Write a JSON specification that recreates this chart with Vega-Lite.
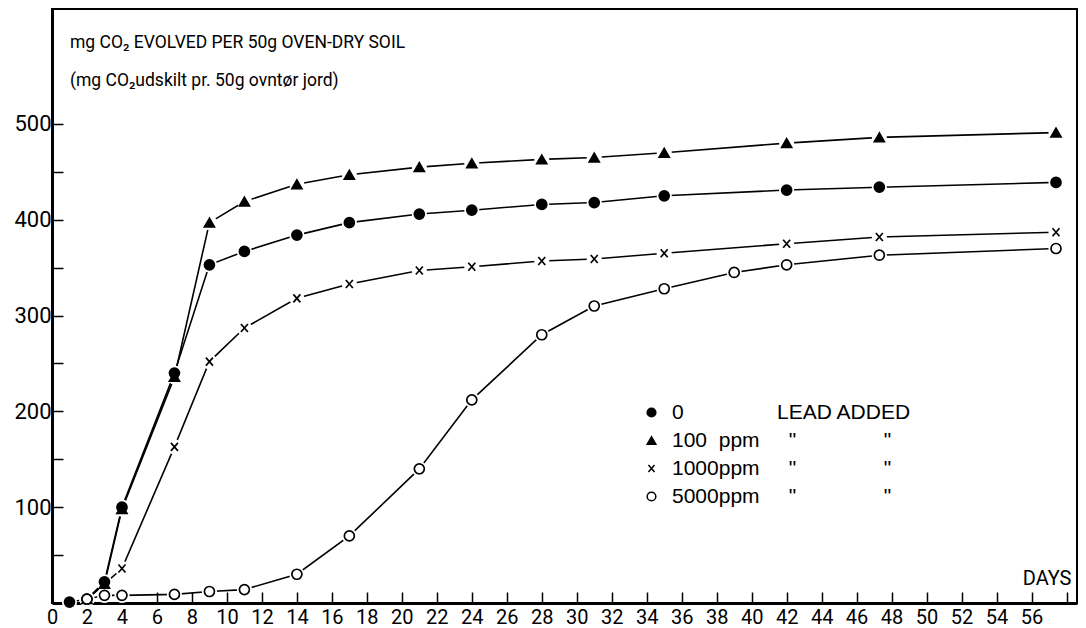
{
  "$schema": "https://vega.github.io/schema/vega-lite/v6.json",
  "width": 1025,
  "height": 594,
  "autosize": {"type": "none"},
  "padding": {"left": 52, "top": 9, "right": 9, "bottom": 25},
  "background": "white",
  "config": {
    "view": {"stroke": "black", "strokeWidth": 2},
    "font": "Roboto",
    "axis": {"grid": false, "labelColor": "black", "tickColor": "black", "domainColor": "black", "labelFont": "Roboto", "labelFontSize": 20}
  },
  "title": {
    "text": "mg CO₂ EVOLVED PER 50g OVEN-DRY SOIL",
    "subtitle": "(mg CO₂udskilt pr. 50g ovntør jord)",
    "anchor": "start",
    "frame": "group",
    "orient": "top",
    "offset": -80,
    "dx": 18,
    "font": "Roboto",
    "fontSize": 17.5,
    "fontWeight": "normal",
    "color": "black",
    "subtitleFont": "Roboto",
    "subtitleFontSize": 17.5,
    "subtitleColor": "black",
    "subtitlePadding": 20
  },
  "data": {
    "values": [
      {"day": 1, "v": 1, "s": "0"},
      {"day": 2, "v": 4, "s": "0"},
      {"day": 3, "v": 22, "s": "0"},
      {"day": 4, "v": 100, "s": "0"},
      {"day": 7, "v": 240, "s": "0"},
      {"day": 9, "v": 353, "s": "0"},
      {"day": 11, "v": 367, "s": "0"},
      {"day": 14, "v": 384, "s": "0"},
      {"day": 17, "v": 397, "s": "0"},
      {"day": 21, "v": 406, "s": "0"},
      {"day": 24, "v": 410, "s": "0"},
      {"day": 28, "v": 416, "s": "0"},
      {"day": 31, "v": 418, "s": "0"},
      {"day": 35, "v": 425, "s": "0"},
      {"day": 42, "v": 431, "s": "0"},
      {"day": 47.3, "v": 434, "s": "0"},
      {"day": 57.4, "v": 439, "s": "0"},
      {"day": 2, "v": 4, "s": "100 ppm"},
      {"day": 3, "v": 20, "s": "100 ppm"},
      {"day": 4, "v": 98, "s": "100 ppm"},
      {"day": 7, "v": 236, "s": "100 ppm"},
      {"day": 9, "v": 397, "s": "100 ppm"},
      {"day": 11, "v": 419, "s": "100 ppm"},
      {"day": 14, "v": 437, "s": "100 ppm"},
      {"day": 17, "v": 447, "s": "100 ppm"},
      {"day": 21, "v": 455, "s": "100 ppm"},
      {"day": 24, "v": 459, "s": "100 ppm"},
      {"day": 28, "v": 463, "s": "100 ppm"},
      {"day": 31, "v": 465, "s": "100 ppm"},
      {"day": 35, "v": 470, "s": "100 ppm"},
      {"day": 42, "v": 480, "s": "100 ppm"},
      {"day": 47.3, "v": 486, "s": "100 ppm"},
      {"day": 57.4, "v": 491, "s": "100 ppm"},
      {"day": 2, "v": 4, "s": "1000 ppm"},
      {"day": 3, "v": 20, "s": "1000 ppm"},
      {"day": 4, "v": 36, "s": "1000 ppm"},
      {"day": 7, "v": 163, "s": "1000 ppm"},
      {"day": 9, "v": 252, "s": "1000 ppm"},
      {"day": 11, "v": 287, "s": "1000 ppm"},
      {"day": 14, "v": 318, "s": "1000 ppm"},
      {"day": 17, "v": 333, "s": "1000 ppm"},
      {"day": 21, "v": 347, "s": "1000 ppm"},
      {"day": 24, "v": 351, "s": "1000 ppm"},
      {"day": 28, "v": 357, "s": "1000 ppm"},
      {"day": 31, "v": 359, "s": "1000 ppm"},
      {"day": 35, "v": 365, "s": "1000 ppm"},
      {"day": 42, "v": 375, "s": "1000 ppm"},
      {"day": 47.3, "v": 382, "s": "1000 ppm"},
      {"day": 57.4, "v": 387, "s": "1000 ppm"},
      {"day": 2, "v": 4, "s": "5000 ppm"},
      {"day": 3, "v": 8, "s": "5000 ppm"},
      {"day": 4, "v": 8, "s": "5000 ppm"},
      {"day": 7, "v": 9, "s": "5000 ppm"},
      {"day": 9, "v": 12, "s": "5000 ppm"},
      {"day": 11, "v": 14, "s": "5000 ppm"},
      {"day": 14, "v": 30, "s": "5000 ppm"},
      {"day": 17, "v": 70, "s": "5000 ppm"},
      {"day": 21, "v": 140, "s": "5000 ppm"},
      {"day": 24, "v": 212, "s": "5000 ppm"},
      {"day": 28, "v": 280, "s": "5000 ppm"},
      {"day": 31, "v": 310, "s": "5000 ppm"},
      {"day": 35, "v": 328, "s": "5000 ppm"},
      {"day": 39, "v": 345, "s": "5000 ppm"},
      {"day": 42, "v": 353, "s": "5000 ppm"},
      {"day": 47.3, "v": 363, "s": "5000 ppm"},
      {"day": 57.4, "v": 370, "s": "5000 ppm"}
    ]
  },
  "encoding": {
    "x": {
      "field": "day", "type": "quantitative",
      "scale": {"domain": [0, 58.6], "nice": false, "zero": false},
      "axis": {
        "title": "DAYS",
        "titleX": 1019, "titleY": -19, "titleAlign": "right", "titleAnchor": null,
        "titleBaseline": "alphabetic", "titleFont": "Roboto", "titleFontSize": 20,
        "titleFontWeight": "normal", "titleColor": "black",
        "values": [0,2,4,6,8,10,12,14,16,18,20,22,24,26,28,30,32,34,36,38,40,42,44,46,48,50,52,54,56,58],
        "labelExpr": "datum.value == 58 ? '' : datum.label",
        "tickSize": -11, "tickWidth": 1.5, "domainWidth": 3, "labelPadding": 15,
        "labelFlush": false, "labelOverlap": false
      }
    },
    "y": {
      "field": "v", "type": "quantitative",
      "scale": {"domain": [0, 620], "nice": false},
      "axis": {
        "title": null,
        "values": [50,100,150,200,250,300,350,400,450,500],
        "labelExpr": "datum.value % 100 == 0 ? datum.label : ''",
        "labelFontSize": 22,
        "tickSize": -11, "tickWidth": 1.5, "domainWidth": 3, "labelPadding": 12,
        "labelOverlap": false
      }
    }
  },
  "layer": [
    {
      "mark": {"type": "line", "color": "black", "strokeWidth": 1.6},
      "encoding": {"detail": {"field": "s"}}
    },
    {
      "mark": {"type": "point", "filled": true, "color": "white", "opacity": 1, "size": 230, "shape": "circle"},
      "encoding": {}
    },
    {
      "mark": {"type": "point", "strokeWidth": 1.7, "opacity": 1, "size": 100},
      "encoding": {
        "shape": {
          "field": "s", "type": "nominal",
          "scale": {
            "domain": ["0", "100 ppm", "1000 ppm", "5000 ppm"],
            "range": ["circle", "triangle-up", "M-0.7,-0.8L0.7,0.8M-0.7,0.8L0.7,-0.8", "circle"]
          },
          "legend": {
            "orient": "none", "legendX": 589, "legendY": 393, "padding": 0,
            "title": null, "symbolSize": 75, "symbolStrokeWidth": 1.5,
            "labelFont": "Liberation Sans", "labelFontSize": 21, "labelColor": "black",
            "labelOffset": 10, "rowPadding": 6, "labelLimit": 600,
            "labelExpr": "datum.label == '0' ? '0\u00a0\u00a0\u00a0\u00a0\u00a0\u00a0\u00a0\u00a0\u00a0\u00a0\u00a0\u00a0\u00a0\u00a0\u00a0\u00a0LEAD ADDED' : datum.label == '100 ppm' ? '100\u00a0\u00a0ppm\u00a0\u00a0\u00a0\u00a0\u00a0\"\u00a0\u00a0\u00a0\u00a0\u00a0\u00a0\u00a0\u00a0\u00a0\u00a0\u00a0\u00a0\u00a0\u00a0\u00a0\"' : datum.label == '1000 ppm' ? '1000ppm\u00a0\u00a0\u00a0\u00a0\u00a0\"\u00a0\u00a0\u00a0\u00a0\u00a0\u00a0\u00a0\u00a0\u00a0\u00a0\u00a0\u00a0\u00a0\u00a0\u00a0\"' : '5000ppm\u00a0\u00a0\u00a0\u00a0\u00a0\"\u00a0\u00a0\u00a0\u00a0\u00a0\u00a0\u00a0\u00a0\u00a0\u00a0\u00a0\u00a0\u00a0\u00a0\u00a0\"'"
          }
        },
        "fill": {
          "field": "s", "type": "nominal",
          "scale": {
            "domain": ["0", "100 ppm", "1000 ppm", "5000 ppm"],
            "range": ["black", "black", "transparent", "white"]
          }
        },
        "stroke": {
          "field": "s", "type": "nominal",
          "scale": {
            "domain": ["0", "100 ppm", "1000 ppm", "5000 ppm"],
            "range": ["black", "black", "black", "black"]
          }
        }
      }
    }
  ]
}
